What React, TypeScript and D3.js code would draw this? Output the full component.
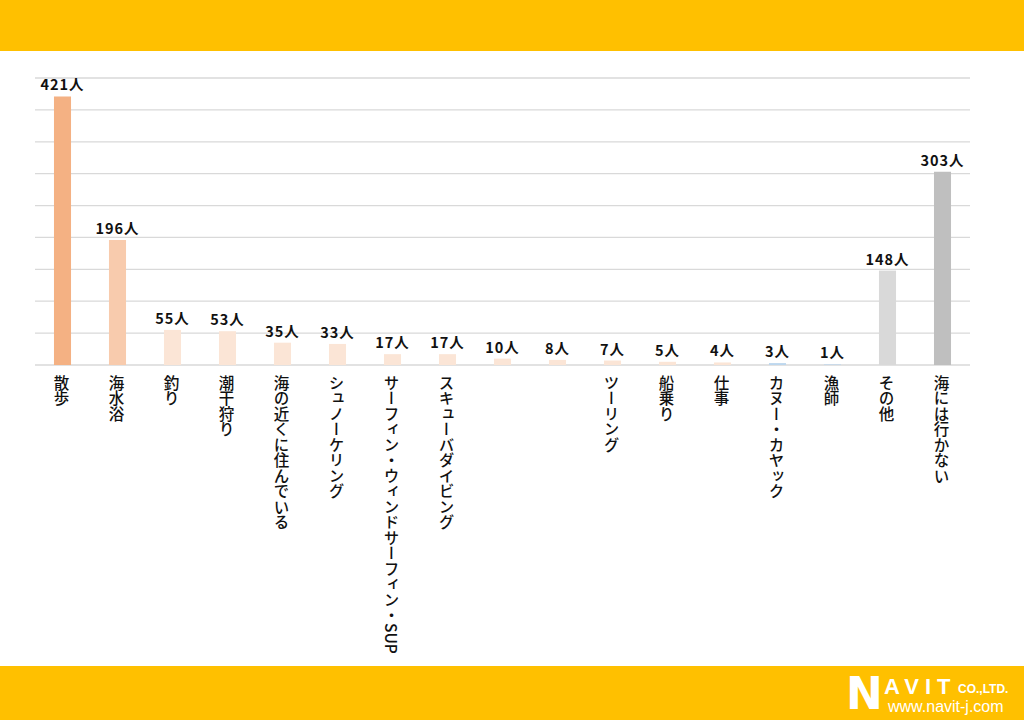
import React from "react";
import * as d3 from "d3";

const categories: string[] = [
  "散歩",
  "海水浴",
  "釣り",
  "潮干狩り",
  "海の近くに住んでいる",
  "シュノーケリング",
  "サーフィン・ウィンドサーフィン・SUP",
  "スキューバダイビング",
  "",
  "",
  "ツーリング",
  "船乗り",
  "仕事",
  "カヌー・カヤック",
  "漁師",
  "その他",
  "海には行かない",
];
const values: number[] = [421, 196, 55, 53, 35, 33, 17, 17, 10, 8, 7, 5, 4, 3, 1, 148, 303];
const barColors: string[] = [
  "#F4B183",
  "#F8CBAD",
  "#FBE5D6",
  "#FBE5D6",
  "#FBE5D6",
  "#FBE5D6",
  "#FBE5D6",
  "#FBE5D6",
  "#FBE5D6",
  "#FBE5D6",
  "#FBE5D6",
  "#FBE5D6",
  "#FBE5D6",
  "#BDD7EE",
  "#BDD7EE",
  "#D9D9D9",
  "#BFBFBF",
];
const yTicks: number[] = [0, 50, 100, 150, 200, 250, 300, 350, 400, 450];
const unit = "人";

const W = 1024;
const H = 720;
const left = 35;
const right = 970;
const top = 78;
const bottom = 365;
const font = "'Noto Sans CJK JP', 'Noto Sans', sans-serif";

export default function App() {
  const idx = categories.map((_, i) => String(i));
  const x = d3.scaleBand<string>().domain(idx).range([left, right]).paddingInner(0.69).paddingOuter(0.345);
  const y = d3.scaleLinear().domain([0, 450]).range([bottom, top]);

  return (
    <svg
      width={W}
      height={H}
      viewBox={`0 0 ${W} ${H}`}
      style={{ position: "absolute", left: 0, top: 0, display: "block", background: "#fff" }}
    >
      <rect x={0} y={0} width={W} height={51} fill="#FFC000" />
      <rect x={0} y={666} width={W} height={H - 666} fill="#FFC000" />

      {yTicks.map((t) => (
        <line key={t} x1={left} x2={right} y1={y(t)} y2={y(t)} stroke="#D9D9D9" strokeWidth={1.3} />
      ))}

      {values.map((v, i) => {
        const bx = x(String(i)) as number;
        const bw = x.bandwidth();
        const cx = bx + bw / 2;
        return (
          <g key={i}>
            <rect x={bx} y={y(v)} width={bw} height={Math.max(0, bottom - y(v))} fill={barColors[i]} />
            <text
              x={cx}
              y={y(v) - 6}
              textAnchor="middle"
              fontFamily={font}
              fontWeight="bold"
              fontSize={14.5}
              letterSpacing={1}
              fill="#111"
            >
              {v}
              {unit}
            </text>
            {categories[i] && (
              <text
                x={cx - 1}
                y={375}
                fontFamily={font}
                fontWeight={500}
                fontSize={15.5}
                fill="#111"
                style={{ writingMode: "vertical-rl" } as any}
                writingMode="vertical-rl"
              >
                {categories[i]}
              </text>
            )}
          </g>
        );
      })}

      <g fill="#fff" fontFamily="'Liberation Sans', Arial, sans-serif" fontWeight="bold">
        <text x={846} y={709} fontSize={44} fontFamily="'DejaVu Sans', sans-serif">
          N
        </text>
        <text x={884} y={694} fontSize={22} letterSpacing={6}>
          AVIT
        </text>
        <text x={958} y={693} fontSize={12}>
          CO.,LTD.
        </text>
        <text x={888} y={712} fontSize={16} fontWeight="normal">
          www.navit-j.com
        </text>
      </g>
    </svg>
  );
}
